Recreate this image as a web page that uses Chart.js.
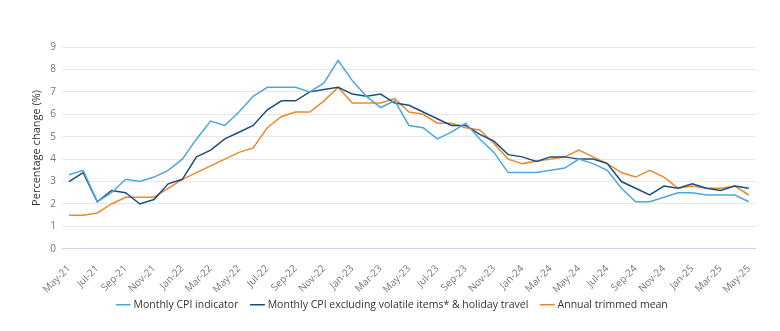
<!DOCTYPE html>
<html lang="en">
  <head>
    <meta charset="UTF-8" />
    <title>CPI measures</title>
    <style>
      body {
        margin: 0;
        padding: 0;
        background: #ffffff;
      }
      .wrap {
        width: 780px;
        height: 331px;
      }
    </style>
  </head>
  <body>
    <div class="wrap">
      <canvas id="cpiChart" width="780" height="331"></canvas>
    </div>

    <script src="https://cdn.jsdelivr.net/npm/chart.js"></script>
    <script>
      const months = [
        "May-21", "Jun-21", "Jul-21", "Aug-21", "Sep-21", "Oct-21", "Nov-21", "Dec-21",
        "Jan-22", "Feb-22", "Mar-22", "Apr-22", "May-22", "Jun-22", "Jul-22", "Aug-22",
        "Sep-22", "Oct-22", "Nov-22", "Dec-22", "Jan-23", "Feb-23", "Mar-23", "Apr-23",
        "May-23", "Jun-23", "Jul-23", "Aug-23", "Sep-23", "Oct-23", "Nov-23", "Dec-23",
        "Jan-24", "Feb-24", "Mar-24", "Apr-24", "May-24", "Jun-24", "Jul-24", "Aug-24",
        "Sep-24", "Oct-24", "Nov-24", "Dec-24", "Jan-25", "Feb-25", "Mar-25", "Apr-25",
        "May-25",
      ];

      const monthlyCpi = [
        3.3, 3.5, 2.1, 2.5, 3.1, 3.0, 3.2, 3.5, 4.0, 4.9, 5.7, 5.5, 6.1, 6.8, 7.2, 7.2,
        7.2, 7.0, 7.4, 8.4, 7.5, 6.8, 6.3, 6.6, 5.5, 5.4, 4.9, 5.2, 5.6, 4.9, 4.3, 3.4,
        3.4, 3.4, 3.5, 3.6, 4.0, 3.8, 3.5, 2.7, 2.1, 2.1, 2.3, 2.5, 2.5, 2.4, 2.4, 2.4,
        2.1,
      ];

      const cpiExVolatile = [
        3.0, 3.4, 2.1, 2.6, 2.5, 2.0, 2.2, 2.9, 3.1, 4.1, 4.4, 4.9, 5.2, 5.5, 6.2, 6.6,
        6.6, 7.0, 7.1, 7.2, 6.9, 6.8, 6.9, 6.5, 6.4, 6.1, 5.8, 5.5, 5.5, 5.1, 4.8, 4.2,
        4.1, 3.9, 4.1, 4.1, 4.0, 4.0, 3.8, 3.0, 2.7, 2.4, 2.8, 2.7, 2.9, 2.7, 2.6, 2.8,
        2.7,
      ];

      const trimmedMean = [
        1.5, 1.5, 1.6, 2.0, 2.3, 2.3, 2.3, 2.7, 3.1, 3.4, 3.7, 4.0, 4.3, 4.5, 5.4, 5.9,
        6.1, 6.1, 6.6, 7.2, 6.5, 6.5, 6.5, 6.7, 6.1, 6.0, 5.6, 5.6, 5.4, 5.3, 4.7, 4.0,
        3.8, 3.9, 4.0, 4.1, 4.4, 4.1, 3.8, 3.4, 3.2, 3.5, 3.2, 2.7, 2.8, 2.7, 2.7, 2.8,
        2.4,
      ];

      const seriesNames = [
        "Monthly CPI indicator",
        "Monthly CPI excluding volatile items* & holiday travel",
        "Annual trimmed mean",
      ];

      const fontFamily = "'Open Sans', sans-serif";

      // legend keeps wide gaps between items but sits closer to the date labels;
      // only the top edge moves up, so the legend clip box still holds the items
      const legendNudge = {
        id: "legendNudge",
        beforeInit(chart) {
          const fit = chart.legend.fit;
          chart.legend.fit = function () {
            fit.call(this);
            this.height -= 22;
          };
        },
        afterLayout(chart) {
          chart.legend.top -= 24;
        },
      };

      new Chart(document.getElementById("cpiChart"), {
        type: "line",
        data: {
          labels: months,
          datasets: [
            {
              label: seriesNames[0],
              data: monthlyCpi,
              borderColor: "#4ea6dc",
              backgroundColor: "#4ea6dc",
              borderWidth: 1.5,
              pointRadius: 0,
              tension: 0,
            },
            {
              label: seriesNames[1],
              data: cpiExVolatile,
              borderColor: "#1c4f7c",
              backgroundColor: "#1c4f7c",
              borderWidth: 1.5,
              pointRadius: 0,
              tension: 0,
            },
            {
              label: seriesNames[2],
              data: trimmedMean,
              borderColor: "#ec8a2b",
              backgroundColor: "#ec8a2b",
              borderWidth: 1.5,
              pointRadius: 0,
              tension: 0,
            },
          ],
        },
        plugins: [legendNudge],
        options: {
          responsive: false,
          animation: false,
          layout: {
            padding: { top: 47, right: 24, bottom: 9, left: 30 },
          },
          plugins: {
            legend: {
              position: "bottom",
              labels: {
                usePointStyle: true,
                pointStyle: "line",
                boxWidth: 10,
                padding: 14,
                color: "#333333",
                font: { family: fontFamily, size: 10.5 },
              },
            },
            tooltip: { enabled: false },
          },
          scales: {
            x: {
              offset: true,
              grid: { display: false, drawTicks: false, tickLength: 0 },
              border: { display: false },
              ticks: {
                autoSkip: false,
                maxRotation: 45,
                minRotation: 45,
                padding: 14,
                color: "#777777",
                font: { family: fontFamily, size: 10 },
                callback: function (value, index) {
                  return index % 2 === 0 ? months[index] : "";
                },
              },
            },
            y: {
              min: 0,
              max: 9,
              border: { display: false },
              grid: {
                drawTicks: false,
                color: function (ctx) {
                  return ctx.tick.value === 0 ? "#ccd6eb" : "#e8e8e8";
                },
              },
              ticks: {
                stepSize: 1,
                padding: 6,
                color: "#777777",
                font: { family: fontFamily, size: 10 },
              },
              title: {
                display: true,
                text: "Percentage change (%)",
                color: "#333333",
                padding: { top: 0, bottom: 1 },
                font: { family: fontFamily, size: 11 },
              },
            },
          },
        },
      });
    </script>
  </body>
</html>
